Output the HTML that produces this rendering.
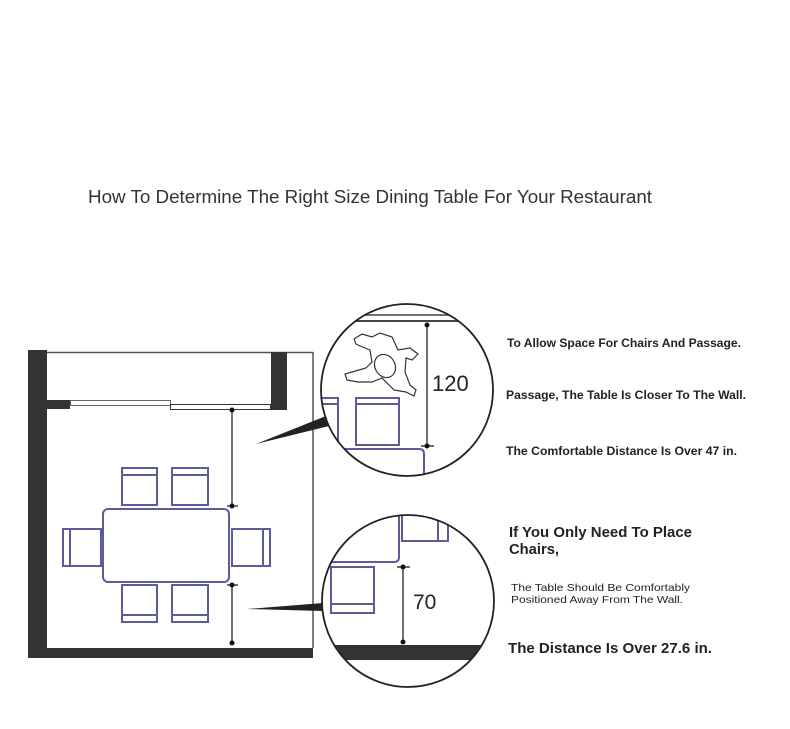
<!DOCTYPE html>
<html><head><meta charset="utf-8"><style>
html,body{margin:0;padding:0;background:#fff;}
svg{display:block;}
text{font-family:"Liberation Sans",sans-serif;}
</style></head><body>
<svg width="790" height="729" viewBox="0 0 790 729" xmlns="http://www.w3.org/2000/svg">
<defs>
<clipPath id="c1"><circle cx="407" cy="390" r="86"/></clipPath>
<clipPath id="c2"><circle cx="408" cy="601" r="86"/></clipPath>
</defs>
<rect width="790" height="729" fill="#fff"/>
<text x="88" y="203" font-size="18" fill="#333" textLength="564" lengthAdjust="spacingAndGlyphs">How To Determine The Right Size Dining Table For Your Restaurant</text>

<!-- room -->
<rect x="28" y="350" width="19" height="308" fill="#333"/>
<rect x="28" y="648" width="285" height="10" fill="#333"/>
<line x1="47" y1="352.5" x2="313" y2="352.5" stroke="#555" stroke-width="1.5"/>
<line x1="313" y1="352" x2="313" y2="648" stroke="#555" stroke-width="1.5"/>
<rect x="271" y="352" width="16" height="58" fill="#333"/>
<rect x="47" y="400" width="23" height="9" fill="#333"/>
<rect x="70.5" y="400.5" width="100" height="5" fill="#fff" stroke="#666" stroke-width="1"/>
<rect x="170.5" y="404.5" width="100" height="5" fill="#fff" stroke="#333" stroke-width="1"/>

<!-- table & chairs -->
<g fill="none" stroke="#5c5c9a" stroke-width="2">
<rect x="103" y="509" width="126" height="73" rx="5"/>
<rect x="122" y="468" width="35" height="37"/><line x1="122" y1="475" x2="157" y2="475"/>
<rect x="172" y="468" width="36" height="37"/><line x1="172" y1="475" x2="208" y2="475"/>
<rect x="122" y="585" width="35" height="37"/><line x1="122" y1="615" x2="157" y2="615"/>
<rect x="172" y="585" width="36" height="37"/><line x1="172" y1="615" x2="208" y2="615"/>
<rect x="63" y="529" width="38" height="37"/><line x1="70" y1="529" x2="70" y2="566"/>
<rect x="232" y="529" width="38" height="37"/><line x1="263" y1="529" x2="263" y2="566"/>
</g>
<g stroke="#111" stroke-width="1.2">
<line x1="232" y1="410" x2="232" y2="506"/><line x1="227" y1="506" x2="238" y2="506"/>
<line x1="232" y1="585" x2="232" y2="643"/><line x1="227" y1="585" x2="238" y2="585"/>
</g>
<g fill="#111"><circle cx="232" cy="410" r="2.5"/><circle cx="232" cy="506" r="2.5"/><circle cx="232" cy="585" r="2.5"/><circle cx="232" cy="643" r="2.5"/></g>

<!-- pointers -->
<polygon points="256,444 326,416 329,426" fill="#222"/>
<polygon points="247,609 323,603 323,611" fill="#222"/>

<!-- circle 1 -->
<circle cx="407" cy="390" r="86" fill="#fff"/>
<g clip-path="url(#c1)">
<line x1="320" y1="315" x2="500" y2="315" stroke="#444" stroke-width="1.5"/>
<line x1="320" y1="321" x2="500" y2="321" stroke="#444" stroke-width="2"/>
<g fill="none" stroke="#5c5c9a" stroke-width="2">
<rect x="356" y="398" width="43" height="47"/><line x1="356" y1="404" x2="399" y2="404"/>
<rect x="300" y="398" width="38" height="47"/><line x1="300" y1="404" x2="338" y2="404"/>
<path d="M300 449 H419 Q424 449 424 454 V480"/>
</g>
<g fill="#fff" stroke="#333" stroke-width="1.2">
<path d="M354 339 L362 334 L372 337 L380 333 L392 337 L398 350 L410 348 L418 354 L412 360 L406 358 L405 372 L410 385 L416 390 L414 396 L406 392 L394 390 L382 378 L372 382 L358 382 L347 380 L345 374 L352 372 L366 368 L372 362 L370 350 L360 346 L356 344 Z"/>
<ellipse cx="385" cy="366" rx="10" ry="12" transform="rotate(-30 385 366)"/>
</g>
<line x1="427" y1="325" x2="427" y2="446" stroke="#111" stroke-width="1.2"/>
<line x1="421" y1="446" x2="434" y2="446" stroke="#111" stroke-width="1.2"/>
<circle cx="427" cy="325" r="2.5" fill="#111"/><circle cx="427" cy="446" r="2.5" fill="#111"/>
<text x="432" y="391" font-size="22" fill="#222">120</text>
</g>
<circle cx="407" cy="390" r="86" fill="none" stroke="#222" stroke-width="1.8"/>

<!-- circle 2 -->
<circle cx="408" cy="601" r="86" fill="#fff"/>
<g clip-path="url(#c2)">
<g fill="none" stroke="#5c5c9a" stroke-width="2">
<path d="M310 562 H394 Q399 562 399 557 V500"/>
<rect x="402" y="505" width="46" height="36"/><line x1="438" y1="505" x2="438" y2="541"/>
<rect x="331" y="567" width="43" height="46"/><line x1="331" y1="604" x2="374" y2="604"/>
</g>
<rect x="300" y="645" width="200" height="15" fill="#333"/>
<line x1="403" y1="567" x2="403" y2="642" stroke="#111" stroke-width="1.2"/>
<line x1="397" y1="567" x2="410" y2="567" stroke="#111" stroke-width="1.2"/>
<circle cx="403" cy="567" r="2.5" fill="#111"/><circle cx="403" cy="642" r="2.5" fill="#111"/>
<text x="413" y="609" font-size="21" fill="#222">70</text>
</g>
<circle cx="408" cy="601" r="86" fill="none" stroke="#222" stroke-width="1.8"/>

<!-- texts -->
<g fill="#222" font-weight="bold">
<text x="507" y="347" font-size="11.5" textLength="234" lengthAdjust="spacingAndGlyphs">To Allow Space For Chairs And Passage.</text>
<text x="506" y="399" font-size="11.5" textLength="240" lengthAdjust="spacingAndGlyphs">Passage, The Table Is Closer To The Wall.</text>
<text x="506" y="455" font-size="11.5" textLength="231" lengthAdjust="spacingAndGlyphs">The Comfortable Distance Is Over 47 in.</text>
<text x="509" y="537" font-size="14.5" textLength="183" lengthAdjust="spacingAndGlyphs">If You Only Need To Place</text>
<text x="509" y="554" font-size="14.5" textLength="50" lengthAdjust="spacingAndGlyphs">Chairs,</text>
<text x="511" y="591" font-size="10.5" font-weight="normal" textLength="179" lengthAdjust="spacingAndGlyphs">The Table Should Be Comfortably</text>
<text x="511" y="603" font-size="10.5" font-weight="normal" textLength="172" lengthAdjust="spacingAndGlyphs">Positioned Away From The Wall.</text>
<text x="508" y="653" font-size="15" textLength="204" lengthAdjust="spacingAndGlyphs">The Distance Is Over 27.6 in.</text>
</g>
</svg>
</body></html>
